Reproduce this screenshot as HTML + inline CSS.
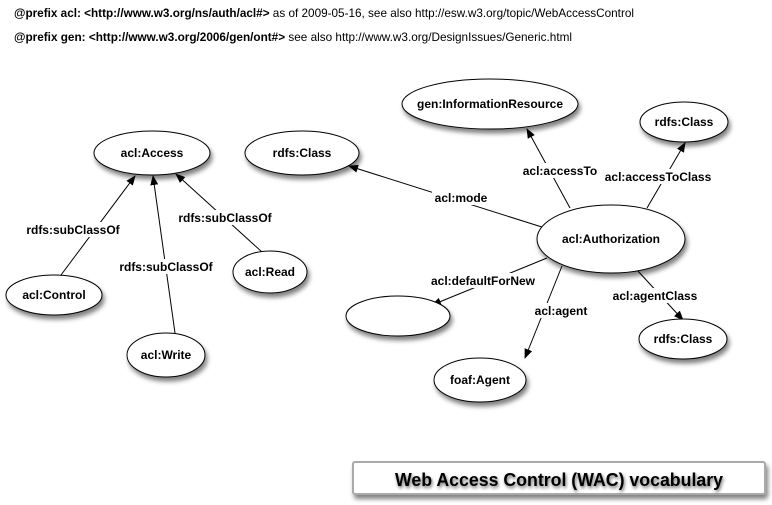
<!DOCTYPE html>
<html><head><meta charset="utf-8"><style>
html,body{margin:0;padding:0;background:#fff;width:772px;height:505px;overflow:hidden}
svg{display:block}
text{font-family:"Liberation Sans",Arial,sans-serif;font-weight:bold;font-size:12px;fill:#000}
</style></head><body>
<svg width="772" height="505" viewBox="0 0 772 505" xmlns="http://www.w3.org/2000/svg">
<defs>
<filter id="sh" x="-20%" y="-20%" width="150%" height="160%"><feGaussianBlur in="SourceAlpha" stdDeviation="2.5"/><feOffset dx="2" dy="4"/><feComponentTransfer><feFuncA type="linear" slope="0.5"/></feComponentTransfer><feMerge><feMergeNode/><feMergeNode in="SourceGraphic"/></feMerge></filter>
<filter id="ts" x="-10%" y="-30%" width="120%" height="170%"><feGaussianBlur in="SourceAlpha" stdDeviation="1.5"/><feOffset dx="1" dy="2"/><feComponentTransfer><feFuncA type="linear" slope="0.6"/></feComponentTransfer><feMerge><feMergeNode/><feMergeNode in="SourceGraphic"/></feMerge></filter>
<marker id="a" markerWidth="10" markerHeight="8" refX="9" refY="4" orient="auto" markerUnits="userSpaceOnUse"><path d="M0,0 L10,4 L0,8 z" fill="#000"/></marker>
</defs>
<text x="14" y="17" textLength="620" lengthAdjust="spacingAndGlyphs">@prefix acl: &lt;http://www.w3.org/ns/auth/acl#&gt;<tspan font-weight="normal"> as of 2009-05-16, see also http://esw.w3.org/topic/WebAccessControl</tspan></text>
<text x="14" y="41" textLength="558" lengthAdjust="spacingAndGlyphs">@prefix gen: &lt;http://www.w3.org/2006/gen/ont#&gt;<tspan font-weight="normal"> see also http://www.w3.org/DesignIssues/Generic.html</tspan></text>

<g stroke="#000" stroke-width="1" fill="none" marker-end="url(#a)">
<line x1="61" y1="275" x2="135" y2="176"/>
<line x1="175" y1="333" x2="153" y2="176"/>
<line x1="262" y1="252" x2="176" y2="174"/>
<line x1="545" y1="228" x2="349" y2="166"/>
<line x1="570" y1="208" x2="527" y2="129"/>
<line x1="647" y1="208" x2="685" y2="143"/>
<line x1="547" y1="258" x2="432" y2="305"/>
<line x1="562" y1="266" x2="525" y2="358"/>
<line x1="637" y1="270" x2="683" y2="320"/>
</g>

<g fill="#fff" stroke="#000" stroke-width="1" filter="url(#sh)">
<ellipse cx="490" cy="104" rx="88" ry="25"/>
<ellipse cx="684" cy="122" rx="44" ry="20"/>
<ellipse cx="152" cy="153" rx="58" ry="22"/>
<ellipse cx="302" cy="153" rx="57" ry="22"/>
<ellipse cx="611" cy="239" rx="74" ry="34"/>
<ellipse cx="54" cy="295" rx="48" ry="20"/>
<ellipse cx="270" cy="272" rx="37" ry="21"/>
<ellipse cx="398" cy="316" rx="52" ry="20"/>
<ellipse cx="683" cy="339" rx="44" ry="20"/>
<ellipse cx="166" cy="355" rx="39" ry="22"/>
<ellipse cx="480" cy="380" rx="46" ry="22"/>
</g>

<g text-anchor="middle">
<text x="490" y="108">gen:InformationResource</text>
<text x="684" y="126">rdfs:Class</text>
<text x="152" y="157">acl:Access</text>
<text x="302" y="157">rdfs:Class</text>
<text x="611" y="243">acl:Authorization</text>
<text x="54" y="299">acl:Control</text>
<text x="270" y="276">acl:Read</text>
<text x="683" y="343">rdfs:Class</text>
<text x="166" y="359">acl:Write</text>
<text x="480" y="384">foaf:Agent</text>
</g>

<g fill="#fff">
<rect x="30" y="222" width="86" height="15"/>
<rect x="122" y="259" width="90" height="15"/>
<rect x="180" y="210" width="90" height="15"/>
<rect x="432" y="190" width="58" height="15"/>
<rect x="520" y="163" width="80" height="15"/>
<rect x="605" y="169" width="106" height="15"/>
<rect x="430" y="273" width="106" height="15"/>
<rect x="530" y="303" width="62" height="15"/>
<rect x="614" y="288" width="82" height="15"/>
</g>
<g text-anchor="middle">
<text x="73" y="234">rdfs:subClassOf</text>
<text x="166" y="271">rdfs:subClassOf</text>
<text x="225" y="222">rdfs:subClassOf</text>
<text x="461" y="202">acl:mode</text>
<text x="560" y="175">acl:accessTo</text>
<text x="658" y="181">acl:accessToClass</text>
<text x="483" y="285">acl:defaultForNew</text>
<text x="561" y="315">acl:agent</text>
<text x="655" y="300">acl:agentClass</text>
</g>

<rect x="353" y="462" width="412" height="32" fill="#fff" stroke="#aaa" stroke-width="2" rx="2" filter="url(#sh)"/>
<text x="559" y="486" text-anchor="middle" style="font-size:18px" textLength="328" lengthAdjust="spacingAndGlyphs" filter="url(#ts)">Web Access Control  (WAC) vocabulary</text>
</svg>
</body></html>
